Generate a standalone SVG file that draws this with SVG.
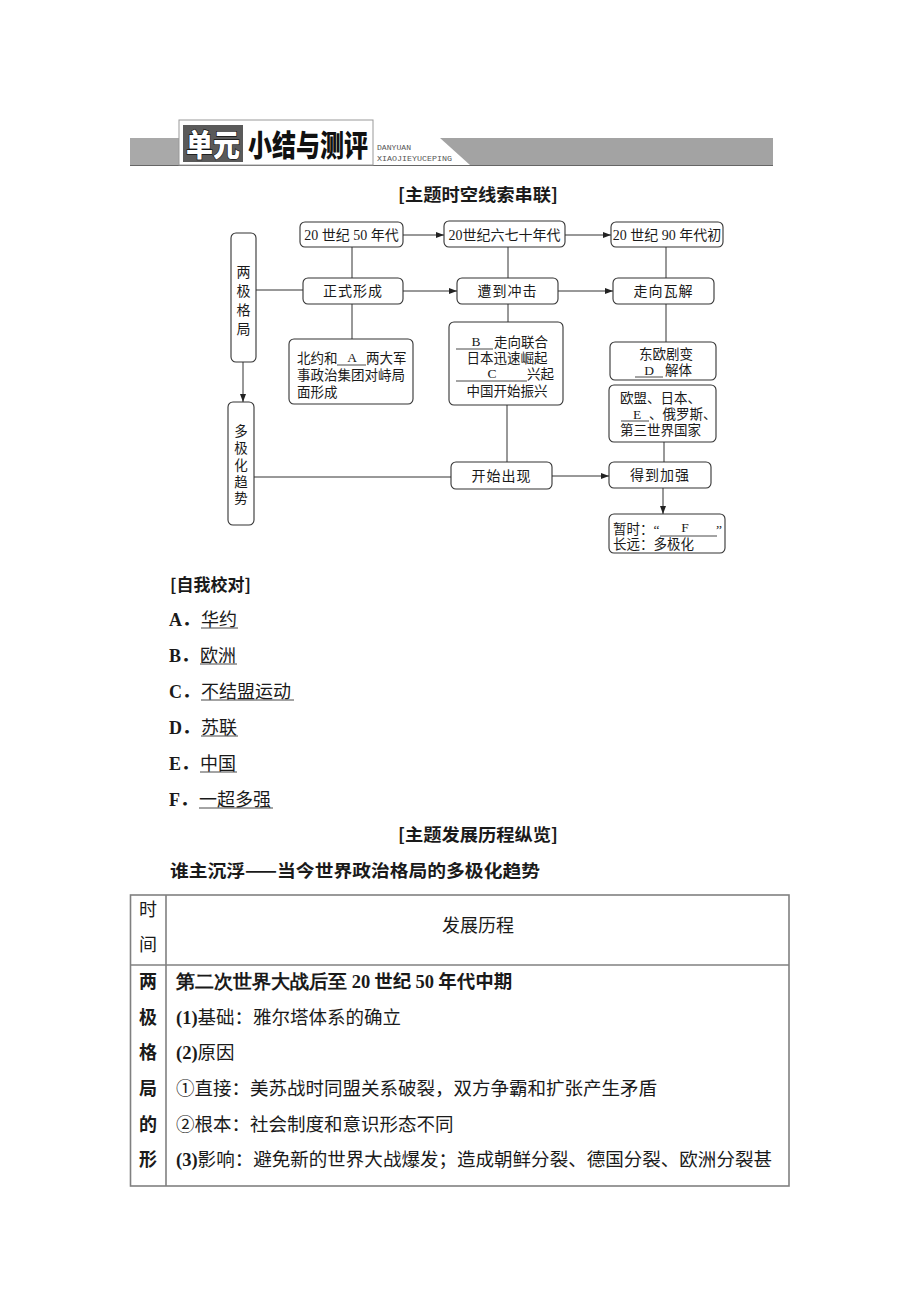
<svg xmlns="http://www.w3.org/2000/svg" width="920" height="1302" viewBox="0 0 920 1302">
<style>
.t{font-family:"Liberation Serif","Noto Sans CJK SC",serif;fill:#1a1a1a}
.f{font-size:14px}
.s{font-size:13.5px}
.box{fill:#fff;stroke:#333;stroke-width:1.1}
.ln{stroke:#333;stroke-width:1;fill:none}
.ul{stroke:#333;stroke-width:0.9}
.h{font-family:"Noto Sans CJK SC","Liberation Sans",sans-serif;fill:#1a1a1a}
.b{font-weight:bold}
.tb{stroke:#808080;stroke-width:1.6;fill:none}
</style>
<defs>
<marker id="ar" markerWidth="8" markerHeight="6" refX="8" refY="3" orient="auto" markerUnits="userSpaceOnUse">
<path d="M0,0 L8,3 L0,6 Z" fill="#222"/>
</marker>
</defs>
<rect width="920" height="1302" fill="#fff"/>

<g id="header">
<rect x="130" y="138" width="49" height="27" fill="#a9a9a9"/>
<polygon points="440,138 773,138 773,165 470,165" fill="#a3a3a3"/>
<line x1="130" y1="165.5" x2="773" y2="165.5" stroke="#666" stroke-width="1"/>
<rect x="179" y="120" width="194" height="45" fill="#fff" stroke="#999" stroke-width="1"/>
<rect x="183" y="125" width="60" height="37" fill="#5a5a5a"/>
<text transform="translate(186,156) scale(1,1.12)" font-size="27" font-weight="900" fill="#fff" stroke="#111" stroke-width="1.2" paint-order="stroke" font-family="Noto Sans CJK SC, sans-serif">单元</text>
<text transform="translate(248,156) scale(1,1.25)" font-size="24" font-weight="900" fill="#111" font-family="Noto Sans CJK SC, sans-serif">小结与测评</text>
<text x="377" y="150" font-size="7" fill="#555" font-family="Liberation Mono, monospace" textLength="34" lengthAdjust="spacingAndGlyphs">DANYUAN</text>
<text x="377" y="161" font-size="7" fill="#555" font-family="Liberation Mono, monospace" textLength="75" lengthAdjust="spacingAndGlyphs">XIAOJIEYUCEPING</text>
</g>

<text class="h b" x="478" y="201" font-size="17.5" text-anchor="middle" textLength="160" lengthAdjust="spacingAndGlyphs">[主题时空线索串联]</text>

<g id="connectors">
<line class="ln" x1="403" y1="235" x2="444" y2="235" marker-end="url(#ar)"/>
<line class="ln" x1="565" y1="235" x2="611" y2="235" marker-end="url(#ar)"/>
<line class="ln" x1="256" y1="290" x2="303" y2="290"/>
<line class="ln" x1="403" y1="291" x2="457" y2="291" marker-end="url(#ar)"/>
<line class="ln" x1="558" y1="291" x2="613" y2="291" marker-end="url(#ar)"/>
<line class="ln" x1="352" y1="247" x2="352" y2="278"/>
<line class="ln" x1="352" y1="304" x2="352" y2="339"/>
<line class="ln" x1="508" y1="247" x2="508" y2="278"/>
<line class="ln" x1="508" y1="304" x2="508" y2="322"/>
<line class="ln" x1="507" y1="405" x2="507" y2="462"/>
<line class="ln" x1="666" y1="247" x2="666" y2="278"/>
<line class="ln" x1="666" y1="304" x2="666" y2="342"/>
<line class="ln" x1="664" y1="442" x2="664" y2="462"/>
<line class="ln" x1="243" y1="362" x2="243" y2="402" marker-end="url(#ar)"/>
<line class="ln" x1="254" y1="477" x2="451" y2="477"/>
<line class="ln" x1="552" y1="476" x2="609" y2="476" marker-end="url(#ar)"/>
<line class="ln" x1="663" y1="488" x2="663" y2="514" marker-end="url(#ar)"/>
</g>

<g id="n-bipolar">
<rect class="box" x="231" y="233" width="25" height="129" rx="5"/>
<text class="t f" x="243.5" text-anchor="middle"><tspan y="277">两</tspan><tspan x="243.5" y="296">极</tspan><tspan x="243.5" y="315">格</tspan><tspan x="243.5" y="334">局</tspan></text>
</g>
<g id="n-multipolar">
<rect class="box" x="228" y="402" width="26" height="123" rx="5"/>
<text class="t s" x="241" text-anchor="middle"><tspan y="436">多</tspan><tspan x="241" y="453">极</tspan><tspan x="241" y="470">化</tspan><tspan x="241" y="487">趋</tspan><tspan x="241" y="503">势</tspan></text>
</g>
<g id="n-50s">
<rect class="box" x="300" y="222" width="103" height="25" rx="5"/>
<text class="t f" x="351.5" y="240" text-anchor="middle">20 世纪 50 年代</text>
</g>
<g id="n-6070s">
<rect class="box" x="444" y="221" width="121" height="26" rx="5"/>
<text class="t f" x="504.5" y="240" text-anchor="middle">20世纪六七十年代</text>
</g>
<g id="n-90s">
<rect class="box" x="611" y="222" width="112" height="25" rx="5"/>
<text class="t f" x="667" y="240" text-anchor="middle">20 世纪 90 年代初</text>
</g>
<g id="n-formed">
<rect class="box" x="303" y="278" width="100" height="26" rx="5"/>
<text class="t f" x="353" y="296" text-anchor="middle" letter-spacing="1">正式形成</text>
</g>
<g id="n-impact">
<rect class="box" x="457" y="278" width="101" height="26" rx="5"/>
<text class="t f" x="507.5" y="296" text-anchor="middle" letter-spacing="1">遭到冲击</text>
</g>
<g id="n-collapse">
<rect class="box" x="613" y="278" width="101" height="26" rx="5"/>
<text class="t f" x="663.5" y="296" text-anchor="middle" letter-spacing="1">走向瓦解</text>
</g>
<g id="n-A">
<rect class="box" x="289" y="339" width="124" height="65" rx="5"/>
<text class="t s" x="297" y="363">北约和</text>
<line class="ul" x1="337" y1="365" x2="366" y2="365"/>
<text class="t s" x="352" y="362" text-anchor="middle">A</text>
<text class="t s" x="366" y="363">两大军</text>
<text class="t s" x="297" y="380">事政治集团对峙局</text>
<text class="t s" x="297" y="397">面形成</text>
</g>
<g id="n-BC">
<rect class="box" x="449" y="322" width="114" height="83" rx="5"/>
<line class="ul" x1="456" y1="349" x2="493" y2="349"/>
<text class="t s" x="476" y="346" text-anchor="middle">B</text>
<text class="t s" x="494" y="347">走向联合</text>
<text class="t s" x="507" y="363" text-anchor="middle">日本迅速崛起</text>
<line class="ul" x1="456" y1="381" x2="527" y2="381"/>
<text class="t s" x="492" y="378" text-anchor="middle">C</text>
<text class="t s" x="527" y="379">兴起</text>
<text class="t s" x="507" y="396" text-anchor="middle">中国开始振兴</text>
</g>
<g id="n-D">
<rect class="box" x="610" y="342" width="106" height="38" rx="5"/>
<text class="t s" x="666" y="359" text-anchor="middle">东欧剧变</text>
<line class="ul" x1="635" y1="377" x2="663" y2="377"/>
<text class="t s" x="649" y="375" text-anchor="middle">D</text>
<text class="t s" x="665" y="375">解体</text>
</g>
<g id="n-E">
<rect class="box" x="609" y="385" width="107" height="57" rx="5"/>
<text class="t s" x="620" y="403">欧盟、日本、</text>
<line class="ul" x1="621" y1="421" x2="649" y2="421"/>
<text class="t s" x="637" y="419" text-anchor="middle">E</text>
<text class="t s" x="649" y="419">、俄罗斯、</text>
<text class="t s" x="620" y="435">第三世界国家</text>
</g>
<g id="n-appear">
<rect class="box" x="451" y="462" width="101" height="27" rx="5"/>
<text class="t f" x="501.5" y="481" text-anchor="middle" letter-spacing="1">开始出现</text>
</g>
<g id="n-strength">
<rect class="box" x="609" y="462" width="102" height="26" rx="5"/>
<text class="t f" x="660" y="480" text-anchor="middle" letter-spacing="1">得到加强</text>
</g>
<g id="n-F">
<rect class="box" x="609" y="514" width="116" height="39" rx="5"/>
<text class="t s" x="613" y="534">暂时：“</text>
<line class="ul" x1="660" y1="536" x2="717" y2="536"/>
<text class="t s" x="685" y="532" text-anchor="middle">F</text>
<text class="t s" x="716" y="534">”</text>
<text class="t s" x="613" y="549">长远：多极化</text>
</g>

<g id="answers">
<text class="h b" x="170" y="591" font-size="17">[自我校对]</text>
<g font-size="18">
<text class="t b" x="169" y="626" font-family="Liberation Serif, serif">A．</text>
<text class="h" x="201" y="626">华约</text>
<line class="ul" x1="201" y1="628" x2="238" y2="628"/>
<text class="t b" x="169" y="662" font-family="Liberation Serif, serif">B．</text>
<text class="h" x="200" y="662">欧洲</text>
<line class="ul" x1="200" y1="664" x2="237" y2="664"/>
<text class="t b" x="169" y="698" font-family="Liberation Serif, serif">C．</text>
<text class="h" x="201" y="698">不结盟运动</text>
<line class="ul" x1="201" y1="700" x2="294" y2="700"/>
<text class="t b" x="169" y="734" font-family="Liberation Serif, serif">D．</text>
<text class="h" x="201" y="734">苏联</text>
<line class="ul" x1="201" y1="736" x2="238" y2="736"/>
<text class="t b" x="169" y="770" font-family="Liberation Serif, serif">E．</text>
<text class="h" x="200" y="770">中国</text>
<line class="ul" x1="200" y1="772" x2="237" y2="772"/>
<text class="t b" x="169" y="806" font-family="Liberation Serif, serif">F．</text>
<text class="h" x="199" y="806">一超多强</text>
<line class="ul" x1="199" y1="808" x2="273" y2="808"/>
</g>
</g>

<text class="h b" x="478" y="841" font-size="17.5" text-anchor="middle" textLength="160" lengthAdjust="spacingAndGlyphs">[主题发展历程纵览]</text>
<text class="h b" x="170" y="877" font-size="17.5" textLength="370" lengthAdjust="spacingAndGlyphs">谁主沉浮——当今世界政治格局的多极化趋势</text>

<g id="table">
<rect class="tb" x="130.5" y="895" width="658.5" height="291"/>
<line class="tb" x1="166" y1="895" x2="166" y2="1186"/>
<line class="tb" x1="130.5" y1="965" x2="789" y2="965"/>
<text class="h" x="148" y="916" font-size="18" text-anchor="middle">时</text>
<text class="h" x="148" y="951" font-size="18" text-anchor="middle">间</text>
<text class="h" x="478" y="932" font-size="18" text-anchor="middle">发展历程</text>
<g class="h b" font-size="18" text-anchor="middle">
<text x="148" y="988">两</text>
<text x="148" y="1024">极</text>
<text x="148" y="1059">格</text>
<text x="148" y="1095">局</text>
<text x="148" y="1131">的</text>
<text x="148" y="1166">形</text>
</g>
<g font-size="18.5">
<text class="h b" x="176" y="988"><tspan font-family="Liberation Serif, serif">第二次世界大战后至 </tspan><tspan font-family="Liberation Serif, serif">20</tspan> 世纪 <tspan font-family="Liberation Serif, serif">50</tspan> 年代中期</text>
<text class="h" x="176" y="1024"><tspan font-family="Liberation Serif, serif" font-weight="bold">(1)</tspan>基础：雅尔塔体系的确立</text>
<text class="h" x="176" y="1059"><tspan font-family="Liberation Serif, serif" font-weight="bold">(2)</tspan>原因</text>
<text class="h" x="176" y="1095" textLength="481" lengthAdjust="spacingAndGlyphs">①直接：美苏战时同盟关系破裂，双方争霸和扩张产生矛盾</text>
<text class="h" x="176" y="1131">②根本：社会制度和意识形态不同</text>
<text class="h" x="176" y="1166" textLength="596" lengthAdjust="spacingAndGlyphs"><tspan font-family="Liberation Serif, serif" font-weight="bold">(3)</tspan>影响：避免新的世界大战爆发；造成朝鲜分裂、德国分裂、欧洲分裂甚</text>
</g>
</g>
</svg>
